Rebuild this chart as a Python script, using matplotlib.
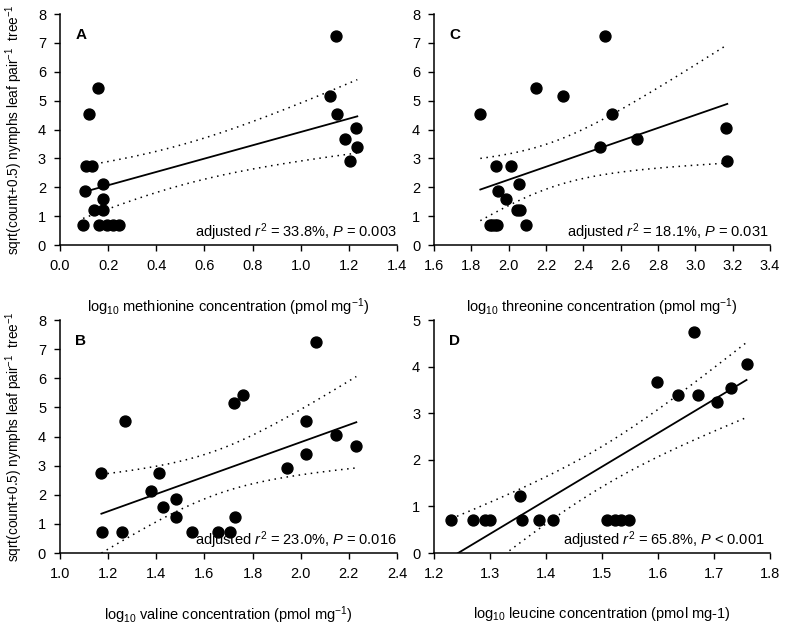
import numpy as np
import matplotlib

matplotlib.use("Agg")
import matplotlib.pyplot as plt  # noqa: E402

plt.rcParams["font.family"] = ["Liberation Sans", "DejaVu Sans"]
plt.rcParams["mathtext.fontset"] = "custom"
plt.rcParams["mathtext.rm"] = "Liberation Sans"
plt.rcParams["mathtext.it"] = "Liberation Sans:italic"
plt.rcParams["mathtext.bf"] = "Liberation Sans:bold"

# panel A: methionine
met_x = [1.145, 0.159, 0.120, 1.123, 1.152, 1.231, 1.182, 1.235, 1.203, 0.107, 0.135,
         0.178, 0.106, 0.177, 0.141, 0.177, 0.096, 0.161, 0.197, 0.221, 0.244]
met_y = [7.25, 5.43, 4.53, 5.15, 4.53, 4.06, 3.67, 3.39, 2.92, 2.74, 2.74,
         2.12, 1.87, 1.58, 1.22, 1.22, 0.71, 0.71, 0.71, 0.71, 0.71]

# panel C: threonine
thr_x = [2.514, 2.144, 2.290, 1.848, 2.553, 3.165, 2.686, 2.491, 3.171, 1.934, 2.011,
         2.054, 1.943, 1.988, 2.045, 2.062, 1.900, 1.912, 1.926, 1.938, 2.094]
thr_y = [7.25, 5.43, 5.15, 4.53, 4.53, 4.06, 3.67, 3.39, 2.92, 2.74, 2.74,
         2.12, 1.87, 1.58, 1.22, 1.22, 0.71, 0.71, 0.71, 0.71, 0.71]

# panel B: valine
val_x = [2.062, 1.760, 1.723, 1.272, 2.020, 2.146, 2.231, 2.020, 1.944, 1.172, 1.412,
         1.377, 1.481, 1.427, 1.484, 1.729, 1.173, 1.256, 1.550, 1.658, 1.706]
val_y = [7.25, 5.43, 5.15, 4.53, 4.53, 4.06, 3.67, 3.39, 2.92, 2.74, 2.74,
         2.12, 1.87, 1.58, 1.22, 1.22, 0.71, 0.71, 0.71, 0.71, 0.71]

# panel D: leucine
leu_x = [1.664, 1.758, 1.599, 1.636, 1.672, 1.730, 1.705, 1.354, 1.231, 1.270,
         1.291, 1.300, 1.357, 1.387, 1.412, 1.508, 1.524, 1.533, 1.549]
leu_y = [4.74, 4.06, 3.67, 3.39, 3.39, 3.54, 3.24, 1.22, 0.71, 0.71,
         0.71, 0.71, 0.71, 0.71, 0.71, 0.71, 0.71, 0.71, 0.71]

# two-sided 95% t quantiles by residual degrees of freedom
T95 = {17: 2.110, 19: 2.093}

YLABEL = "sqrt(count+0.5) nymphs leaf pair$^{-1}$  tree$^{-1}$"

panels = [
    dict(x=met_x, y=met_y, letter="A", xlim=(0.0, 1.4), xstep=0.2, ylim=(0, 8), ystep=1,
         xlabel="log$_{10}$ methionine concentration (pmol mg$^{-1}$)",
         stat="adjusted $\\mathit{r}^{2}$ = 33.8%, $\\mathit{P}$ = 0.003",
         rect=[0.0763, 0.6086, 0.4288, 0.369], ylabel=True, sx=1.0),
    dict(x=thr_x, y=thr_y, letter="C", xlim=(1.6, 3.4), xstep=0.2, ylim=(0, 8), ystep=1,
         xlabel="log$_{10}$ threonine concentration (pmol mg$^{-1}$)",
         stat="adjusted $\\mathit{r}^{2}$ = 18.1%, $\\mathit{P}$ = 0.031",
         rect=[0.5522, 0.6086, 0.4275, 0.369], ylabel=False, sx=0.995),
    dict(x=val_x, y=val_y, letter="B", xlim=(1.0, 2.4), xstep=0.2, ylim=(0, 8), ystep=1,
         xlabel="log$_{10}$ valine concentration (pmol mg$^{-1}$)",
         stat="adjusted $\\mathit{r}^{2}$ = 23.0%, $\\mathit{P}$ = 0.016",
         rect=[0.0763, 0.1166, 0.4288, 0.3722], ylabel=True, sx=1.0),
    dict(x=leu_x, y=leu_y, letter="D", xlim=(1.2, 1.8), xstep=0.1, ylim=(0, 5), ystep=1,
         xlabel="log$_{10}$ leucine concentration (pmol mg-1)",
         stat="adjusted $\\mathit{r}^{2}$ = 65.8%, $\\mathit{P}$ < 0.001",
         rect=[0.5522, 0.1166, 0.4275, 0.3722], ylabel=False, sx=0.985),
]

fig = plt.figure(figsize=(7.86, 6.26), dpi=100)

for p in panels:
    ax = fig.add_axes(p["rect"])
    x = np.array(p["x"])
    y = np.array(p["y"])

    # least squares fit with 95% confidence band for the mean
    slope, icpt = np.polyfit(x, y, 1)
    n = len(x)
    resid = y - (slope * x + icpt)
    s = np.sqrt(np.sum(resid ** 2) / (n - 2))
    xs = np.linspace(x.min(), x.max(), 200)
    fit = slope * xs + icpt
    se = s * np.sqrt(1.0 / n + (xs - x.mean()) ** 2 / np.sum((x - x.mean()) ** 2))
    t = T95.get(n - 2, 2.1)

    ax.plot(xs, fit, color="black", lw=1.3, zorder=2)
    ax.plot(xs, fit + t * se, color="black", lw=1.1, ls=(0, (1, 3)), zorder=2)
    ax.plot(xs, fit - t * se, color="black", lw=1.1, ls=(0, (1, 3)), zorder=2)
    ax.scatter(x, y, s=62, color="black", zorder=3, clip_on=False)

    ax.set_xlim(*p["xlim"])
    ax.set_ylim(*p["ylim"])
    ax.set_xticks(np.arange(p["xlim"][0], p["xlim"][1] + 1e-9, p["xstep"]))
    ax.set_yticks(np.arange(p["ylim"][0], p["ylim"][1] + 1e-9, p["ystep"]))
    ax.xaxis.set_major_formatter(matplotlib.ticker.FormatStrFormatter("%.1f"))
    ax.tick_params(direction="out", length=4, width=1, labelsize=10.5, pad=6)
    for side in ["top", "right"]:
        ax.spines[side].set_visible(False)
    for side in ["left", "bottom"]:
        ax.spines[side].set_linewidth(1.1)

    ax.set_xlabel(p["xlabel"], fontsize=10.5, labelpad=17)
    if p["ylabel"]:
        ax.set_ylabel(YLABEL, fontsize=9.8, labelpad=9)

    ax.text(0.045, 0.91, p["letter"], transform=ax.transAxes, fontsize=11,
            fontweight="bold", ha="left", va="center")
    ax.text(p["sx"], 0.055, p["stat"], transform=ax.transAxes, fontsize=10.5,
            ha="right", va="center")

fig.savefig("out.png", dpi=100)
